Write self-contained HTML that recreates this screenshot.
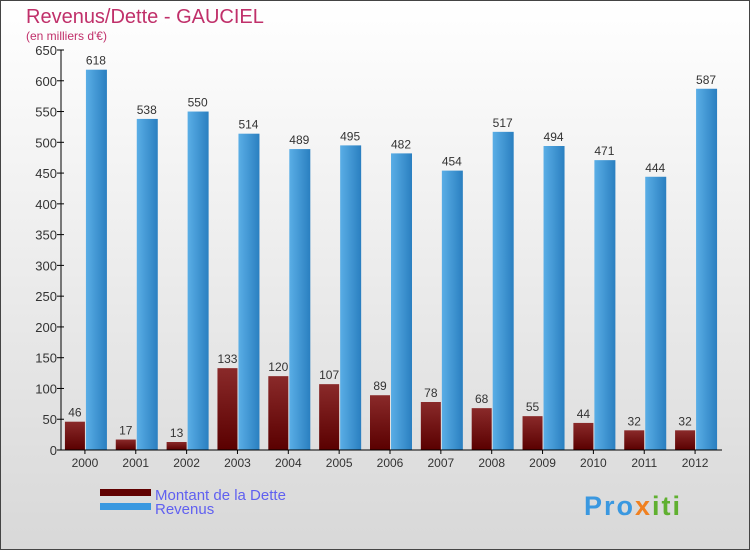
<!DOCTYPE html>
<html><head><meta charset="utf-8"><style>
body{margin:0}
svg text{font-family:"Liberation Sans",sans-serif}
</style></head><body>
<svg id="c" width="750" height="550" xmlns="http://www.w3.org/2000/svg">
<defs>
<linearGradient id="bg" x1="0" y1="0" x2="0" y2="1"><stop offset="0" stop-color="#ffffff"/><stop offset="1" stop-color="#d8d8d8"/></linearGradient>
<linearGradient id="gb" x1="0" y1="0" x2="1" y2="0"><stop offset="0" stop-color="#5aaee6"/><stop offset="1" stop-color="#2a7fc0"/></linearGradient>
<linearGradient id="gd" x1="0" y1="0" x2="0" y2="1"><stop offset="0" stop-color="#8a2a2a"/><stop offset="1" stop-color="#5a0000"/></linearGradient>
</defs>
<rect x="0.5" y="0.5" width="749" height="549" fill="url(#bg)" stroke="#444"/>
<text x="26" y="23" font-size="20" fill="#c0306a">Revenus/Dette - GAUCIEL</text>
<text x="26" y="40" font-size="12" fill="#c0306a">(en milliers d'€)</text>
<g id="plot"></g>
<rect x="100" y="489" width="51" height="7" fill="#600000"/>
<text x="155" y="500" font-size="15" fill="#6060f0">Montant de la Dette</text>
<rect x="100" y="503" width="51" height="7" fill="#3a98e0"/>
<text x="155" y="514" font-size="15" fill="#6060f0">Revenus</text>
<text x="584" y="515" font-size="27" font-weight="bold" fill="#3a98e0" letter-spacing="2">Pro<tspan fill="#f08020">x</tspan><tspan fill="#60b030">iti</tspan></text>
</svg>
<script>
const years=["2000","2001","2002","2003","2004","2005","2006","2007","2008","2009","2010","2011","2012"];
const dette=[46,17,13,133,120,107,89,78,68,55,44,32,32];
const revenus=[618,538,550,514,489,495,482,454,517,494,471,444,587];
const yTicks=[0,50,100,150,200,250,300,350,400,450,500,550,600,650];
const NS="http://www.w3.org/2000/svg";
const g=document.getElementById('plot');
const x0=61,x1=722,yb=450,yt=50,maxV=650;
const gw=(x1-x0)/years.length;
const y=v=>yb-(v/maxV)*(yb-yt);
function mk(t,a,p){const e=document.createElementNS(NS,t);for(const k in a)e.setAttribute(k,a[k]);(p||g).appendChild(e);return e;}
yTicks.forEach(v=>{
 const l=mk('line',{x1:x0-4,x2:x0+3,y1:y(v),y2:y(v),stroke:'#000'});
 
 
 const t=mk('text',{x:x0-4,y:y(v)+5,'font-size':13,'text-anchor':'end',fill:'#333'});
 t.textContent=v;
 
 
});
years.forEach((yr,i)=>{
 const c=x0+gw*(i+0.5)-1.5;
 const bd=mk('rect',{x:c-20,y:y(dette[i]),width:20,height:yb-y(dette[i]),fill:'url(#gd)'});
 
 
 const br=mk('rect',{x:c+1,y:y(revenus[i]),width:21,height:yb-y(revenus[i]),fill:'url(#gb)'});
 
 
 const td=mk('text',{x:c-10,y:y(dette[i])-5,'font-size':12,'text-anchor':'middle',fill:'#333'});
 td.textContent=dette[i];
 
 
 const tr=mk('text',{x:c+11,y:y(revenus[i])-5,'font-size':12,'text-anchor':'middle',fill:'#333'});
 tr.textContent=revenus[i];
 
 
 const tk=mk('line',{x1:c,x2:c,y1:yb,y2:yb+4,stroke:'#000'});
 
 
 const tx=mk('text',{x:c,y:yb+17,'font-size':12,'text-anchor':'middle',fill:'#333'});
 tx.textContent=yr;
 
 
});
const ya=mk('line',{x1:x0,x2:x0,y1:yt,y2:yb,stroke:'#000'});


const xa=mk('line',{x1:x0,x2:x1,y1:yb,y2:yb,stroke:'#000'});


</script>
</body></html>
